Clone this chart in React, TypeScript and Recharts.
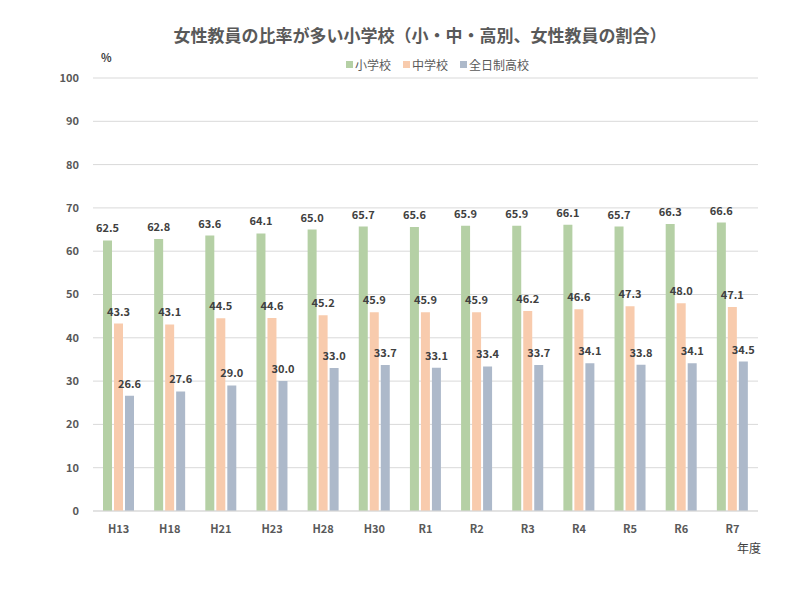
import { BarChart, Bar, XAxis, YAxis, CartesianGrid, LabelList } from "recharts";

const years = ["H13", "H18", "H21", "H23", "H28", "H30", "R1", "R2", "R3", "R4", "R5", "R6", "R7"];
const elementary = [62.5, 62.8, 63.6, 64.1, 65.0, 65.7, 65.6, 65.9, 65.9, 66.1, 65.7, 66.3, 66.6];
const juniorHigh = [43.3, 43.1, 44.5, 44.6, 45.2, 45.9, 45.9, 45.9, 46.2, 46.6, 47.3, 48.0, 47.1];
const highSchool = [26.6, 27.6, 29.0, 30.0, 33.0, 33.7, 33.1, 33.4, 33.7, 34.1, 33.8, 34.1, 34.5];
const yTicks = [0, 10, 20, 30, 40, 50, 60, 70, 80, 90, 100];

const series = [
  { key: "小学校", color: "#b5d0a5" },
  { key: "中学校", color: "#f8cbad" },
  { key: "全日制高校", color: "#adb9ca" },
];

const data = years.map((year, i) => ({
  year,
  小学校: elementary[i],
  中学校: juniorHigh[i],
  全日制高校: highSchool[i],
}));

const font = "'Noto Sans CJK JP', 'Noto Sans', sans-serif";
const labelStyle = { fill: "#404040", fontSize: 11, fontWeight: 700, fontFamily: font };
const tickStyle = { fill: "#595959", fontSize: 11, fontWeight: 700, fontFamily: font };
const fmt = (v: any) => Number(v).toFixed(1);

export default function App() {
  return (
    <div style={{ position: "absolute", left: 0, top: 0, width: 806, height: 589, background: "#fff", fontFamily: font }}>
      <div style={{ position: "absolute", top: 22, left: 0, width: 840, textAlign: "center", fontSize: 17, fontWeight: 700, color: "#595959" }}>
        女性教員の比率が多い小学校（小・中・高別、女性教員の割合）
      </div>
      <div style={{ position: "absolute", top: 49, left: 101, fontSize: 11, fontWeight: 700, color: "#404040" }}>%</div>
      <div style={{ position: "absolute", top: 56, left: 346, display: "flex", gap: 12, fontSize: 12, color: "#595959" }}>
        {series.map((s) => (
          <div key={s.key} style={{ display: "flex", alignItems: "center", gap: 2 }}>
            <span style={{ display: "inline-block", width: 7, height: 7, background: s.color }} />
            <span>{s.key}</span>
          </div>
        ))}
      </div>
      <div style={{ position: "absolute", top: 539, left: 737, fontSize: 12, color: "#404040" }}>年度</div>
      <BarChart
        width={806}
        height={589}
        data={data}
        margin={{ top: 78, right: 48, bottom: 48, left: 0 }}
        barSize={9}
        barGap={2}
      >
        <CartesianGrid vertical={false} stroke="#d9d9d9" />
        <XAxis
          dataKey="year"
          height={30}
          axisLine={{ stroke: "#d9d9d9" }}
          tickLine={false}
          tickMargin={8}
          tick={tickStyle}
        />
        <YAxis
          width={93}
          domain={[0, 100]}
          ticks={yTicks}
          axisLine={false}
          tickLine={false}
          tickMargin={8}
          tick={tickStyle}
        />
        {series.map((s) => (
          <Bar key={s.key} dataKey={s.key} fill={s.color} isAnimationActive={false}>
            <LabelList dataKey={s.key} position="top" offset={8} formatter={fmt} style={labelStyle} />
          </Bar>
        ))}
      </BarChart>
    </div>
  );
}
